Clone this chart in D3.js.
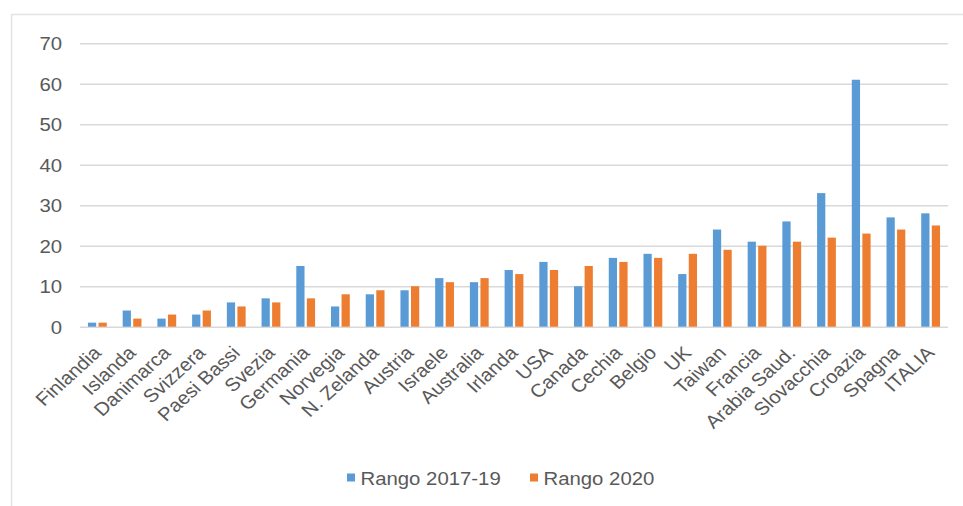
<!DOCTYPE html>
<html>
<head>
<meta charset="utf-8">
<script src="https://cdn.jsdelivr.net/npm/d3@7"></script>
<style>
  html, body { margin: 0; padding: 0; background: #fff; }
  svg { display: block; }
  text { font-family: "Liberation Sans", Arial, sans-serif; fill: #595959; }
</style>
</head>
<body>
<svg id="chart" width="963" height="506"></svg>
<script>
const categories = ["Finlandia","Islanda","Danimarca","Svizzera","Paesi Bassi","Svezia","Germania","Norvegia","N. Zelanda","Austria","Israele","Australia","Irlanda","USA","Canada","Cechia","Belgio","UK","Taiwan","Francia","Arabia Saud.","Slovacchia","Croazia","Spagna","ITALIA"];
const rango2017_19 = [1,4,2,3,6,7,15,5,8,9,12,11,14,16,10,17,18,13,24,21,26,33,61,27,28];
const rango2020    = [1,2,3,4,5,6,7,8,9,10,11,12,13,14,15,16,17,18,19,20,21,22,23,24,25];
const seriesNames = ["Rango 2017-19","Rango 2020"];
const seriesColors = ["#5B9BD5","#ED7D31"];
const yTicks = [0,10,20,30,40,50,60,70];

const S = 1.1; // horizontal stretch of the original picture
const svg = d3.select("#chart");

// frame
svg.append("path")
  .attr("d", "M11.5,506 L11.5,14.5 L963,14.5")
  .attr("fill","none").attr("stroke","#e3e3e3").attr("stroke-width",1.5);

const g = svg.append("g").attr("transform", `scale(${S},1)`);

const x0 = d3.scaleBand().domain(categories).range([80/S, 948/S]).paddingInner(0).paddingOuter(0);
const half = 9.4/S;
const x1 = d3.scaleBand().domain(seriesNames)
  .range([x0.bandwidth()/2 - half, x0.bandwidth()/2 + half]).paddingInner(0.22);
const y = d3.scaleLinear().domain([0,70]).range([326.7, 43.3]);

// gridlines
const yAxis = d3.axisLeft(y).tickValues(yTicks).tickSize(-(948-80)/S).tickPadding(0).tickFormat(d3.format("d"));
const ga = g.append("g").attr("transform", `translate(${80/S},0)`).call(yAxis);
ga.select(".domain").remove();
ga.selectAll(".tick line").attr("stroke","#d9d9d9").attr("stroke-width",1.4);
ga.selectAll(".tick text")
  .attr("x", (62-80)/S).attr("dy","0.36em")
  .style("font-size","18.5px").attr("fill","#595959").attr("text-anchor","end");

// bars
const data = categories.map((c,i)=>({cat:c, vals:[rango2017_19[i], rango2020[i]]}));
const groups = g.append("g").selectAll("g").data(data).join("g")
  .attr("transform", d => `translate(${x0(d.cat)},0)`);
groups.selectAll("rect").data(d => d.vals.map((v,k)=>({v, k})))
  .join("rect")
  .attr("x", d => x1(seriesNames[d.k]))
  .attr("width", x1.bandwidth())
  .attr("y", d => y(d.v))
  .attr("height", d => y(0) - y(d.v))
  .attr("fill", d => seriesColors[d.k]);

// x labels
const xAxis = d3.axisBottom(x0).tickSize(0).tickPadding(0);
const gx = g.append("g").attr("transform", `translate(0,${y(0)})`).call(xAxis);
gx.select(".domain").remove();
gx.selectAll(".tick text")
  .attr("text-anchor","end")
  .attr("x",0).attr("y",0).attr("dy",0)
  .attr("transform", `translate(${5/S},${354-y(0)}) rotate(-45)`)
  .style("font-size","18.5px").attr("fill","#595959");

// legend
const legX = [347, 530];
const lg = g.append("g");
seriesNames.forEach((n,k)=>{
  lg.append("rect").attr("x", legX[k]/S).attr("y", 473.5).attr("width", 8/S).attr("height", 8)
    .attr("fill", seriesColors[k]);
  lg.append("text").attr("x", (legX[k]+13.5)/S).attr("y", 485.5)
    .style("font-size","18.5px").text(n);
});
</script>
</body>
</html>
